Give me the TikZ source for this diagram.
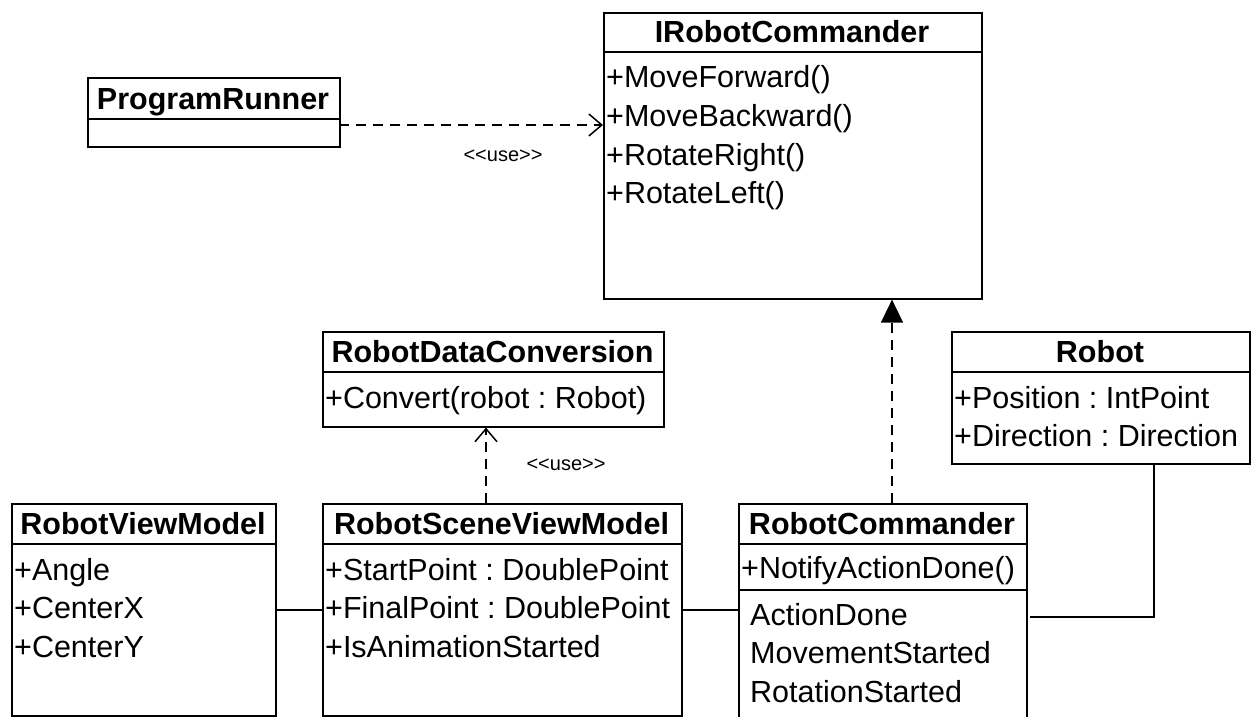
\documentclass[tikz,border=0pt]{standalone}
\usepackage{fontspec}
\setmainfont{Liberation Sans}
\frenchspacing
\usetikzlibrary{arrows.meta,positioning}

\begin{document}
\begin{tikzpicture}[x=1pt,y=-1pt,
  cls/.style={draw,line width=1.6pt,anchor=north west,inner sep=0pt},
  ttl/.style={font=\fontsize{30.5}{38}\selectfont\bfseries,text height=22pt,text depth=0pt,inner sep=0pt},
  mbr/.style={font=\fontsize{30.5}{38}\selectfont,text height=22pt,text depth=0pt,inner sep=0pt,anchor=west},
  lbl/.style={font=\fontsize{20}{24}\selectfont,inner sep=0pt},
  usedep/.style={line width=1.5pt,dash pattern=on 10pt off 7pt,-{Straight Barb[length=13pt,width=22pt,line width=1.5pt]}},
  realize/.style={line width=1.5pt,dash pattern=on 10pt off 7pt,-{Triangle[length=23pt,width=22pt]}},
  assoc/.style={line width=1.5pt}]
\useasboundingbox (0,0) rectangle (1256,717);
\clip (0,0) rectangle (1256,717);
\begin{scope}
\node[cls,minimum width=252pt,minimum height=69pt] (prun) at (87,77) {};
\draw[line width=1.6pt] (87,119) -- (339,119);
\node[ttl] (prun-t) at (213,98) {ProgramRunner};
\end{scope}
\begin{scope}
\node[cls,minimum width=378pt,minimum height=286pt] (irc) at (603,12) {};
\draw[line width=1.6pt] (603,52) -- (981,52);
\node[ttl] (irc-t) at (792,32) {IRobotCommander};
\foreach \m [count=\i] in {+MoveForward(),+MoveBackward(),+RotateRight(),+RotateLeft()}
  \node[mbr] (irc-\i) at (606,38.5+38.5*\i) {\m};
\end{scope}
\begin{scope}
\node[cls,minimum width=341pt,minimum height=95pt] (rdc) at (322,331) {};
\draw[line width=1.6pt] (322,372) -- (663,372);
\node[ttl] (rdc-t) at (492.5,351.5) {RobotDataConversion};
\node[mbr] (rdc-1) at (325,397) {+Convert(robot : Robot)};
\end{scope}
\begin{scope}
\node[cls,minimum width=298pt,minimum height=132pt] (rob) at (951,331) {};
\draw[line width=1.6pt] (951,372) -- (1249,372);
\node[ttl] (rob-t) at (1100,351.5) {Robot};
\foreach \m [count=\i] in {+Position : IntPoint,+Direction : Direction}
  \node[mbr] (rob-\i) at (954,358.5+38.5*\i) {\m};
\end{scope}
\begin{scope}
\node[cls,minimum width=264pt,minimum height=212pt] (rvm) at (11,503) {};
\draw[line width=1.6pt] (11,544) -- (275,544);
\node[ttl] (rvm-t) at (143,523.5) {RobotViewModel};
\foreach \m [count=\i] in {+Angle,+CenterX,+CenterY}
  \node[mbr] (rvm-\i) at (14,530.5+38.5*\i) {\m};
\end{scope}
\begin{scope}
\node[cls,minimum width=359pt,minimum height=212pt] (rsvm) at (322,503) {};
\draw[line width=1.6pt] (322,544) -- (681,544);
\node[ttl] (rsvm-t) at (501.5,523.5) {RobotSceneViewModel};
\foreach \m [count=\i] in {+StartPoint : DoublePoint,+FinalPoint : DoublePoint,+IsAnimationStarted}
  \node[mbr] (rsvm-\i) at (325,530.5+38.5*\i) {\m};
\end{scope}
\begin{scope}
\node[cls,minimum width=288pt,minimum height=226pt] (rc) at (738,503) {};
\draw[line width=1.6pt] (738,544) -- (1026,544);
\draw[line width=1.6pt] (738,590) -- (1026,590);
\node[ttl] (rc-t) at (882,523.5) {RobotCommander};
\node[mbr] (rc-1) at (741,567) {+NotifyActionDone()};
\foreach \m [count=\i] in {ActionDone,MovementStarted,RotationStarted}
  \node[mbr] (rc-e\i) at (750,575.5+38.5*\i) {\m};
\end{scope}
\coordinate (prun-a) at (339,125);
\coordinate (rsvm-a) at (486,503);
\coordinate (rc-a) at (892,503);
\coordinate (rob-a) at (1154,463);
\draw[usedep] (prun-a) -- (prun-a -| irc.west);
\node[lbl] (use1) at (503,156) {<{}<use>{}>};
\draw[usedep] (rsvm-a) -- (rsvm-a |- rdc.south);
\node[lbl] (use2) at (566,465) {<{}<use>{}>};
\draw[realize] (rc-a) -- (rc-a |- irc.south);
\draw[assoc] (rvm.east) -- (rsvm.west);
\draw[assoc] (rsvm.east) -- (rsvm.east -| rc.west);
\draw[assoc] (rob-a) |- ([xshift=2pt]rc.east);
\end{tikzpicture}
\end{document}
